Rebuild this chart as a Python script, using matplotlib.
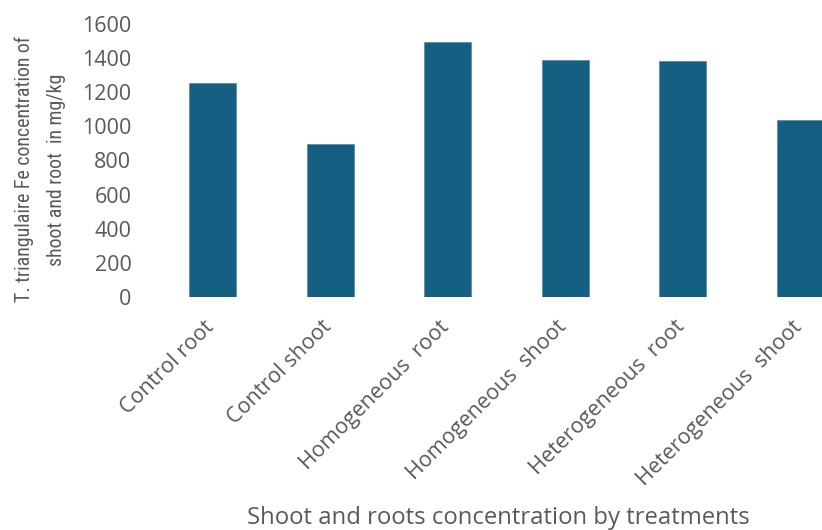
import matplotlib
matplotlib.use("Agg")
import matplotlib.pyplot as plt
import matplotlib.transforms as mtransforms
from matplotlib import font_manager as fm

categories = ["Control root", "Control shoot", "Homogeneous  root",
              "Homogeneous  shoot", "Heterogeneous  root", "Heterogeneous  shoot"]
values = [1255, 898, 1495, 1390, 1385, 1038]
yticks = [0, 200, 400, 600, 800, 1000, 1200, 1400, 1600]
ytitle_lines = ["T. triangulaire Fe concentration of", "shoot and root  in mg/kg"]
xtitle = "Shoot and roots concentration by treatments"

plt.rcParams['font.family'] = ['Open Sans', 'DejaVu Sans']
gray = '#595959'

# pick a narrow family for the condensed-looking y-axis title
names = {f.name for f in fm.fontManager.ttflist}
narrow = None
for cand in ['Liberation Sans Narrow', 'DejaVu Sans Condensed', 'Roboto Condensed']:
    if cand in names:
        narrow = cand
        break
ylab_family = [narrow, 'DejaVu Sans'] if narrow else ['Liberation Sans', 'DejaVu Sans']

W, H = 822, 530
fig = plt.figure(figsize=(W/100, H/100), dpi=100)
left = 153.7 / W
bottom = 1 - 297 / H
top = 1 - 24 / H
ax = fig.add_axes([left, bottom, 1 - left, top - bottom])

x = list(range(len(categories)))
ax.bar(x, values, width=0.4, color='#156082', edgecolor='#5a8fab', linewidth=0.6)

ax.set_xlim(-0.5, 5 + (W - 800.5) / 117.6)
ax.set_ylim(0, 1600)
ax.set_yticks(yticks)
ax.set_yticklabels([str(v) for v in yticks])
ax.set_xticks(x)
ax.set_xticklabels([])

# rotated category labels, anchored at their top-right just under each bar
offset = mtransforms.ScaledTranslation(-9/100, -19.5/100, fig.dpi_scale_trans)
for i, cat in enumerate(categories):
    ax.text(i, 0, cat, transform=ax.get_xaxis_transform() + offset,
            rotation=45, ha='right', va='top', rotation_mode='anchor',
            fontsize=15.5, color=gray)

for s in ax.spines.values():
    s.set_visible(False)
ax.tick_params(axis='both', length=0, labelsize=15.5, colors=gray)
ax.tick_params(axis='y', pad=16)

# y-axis title: two rotated lines, fitted to the reference length
yl1 = fig.text(24 / W, 1 - 169 / H, ytitle_lines[0], rotation=90,
               ha='center', va='center', fontsize=14, color=gray, family=ylab_family)
yl2 = fig.text(57 / W, 1 - 170 / H, ytitle_lines[1], rotation=90,
               ha='center', va='center', fontsize=14, color=gray, family=ylab_family)
fig.canvas.draw()
r = fig.canvas.get_renderer()
fs = 14 * 268 / yl1.get_window_extent(r).height
yl1.set_fontsize(fs)
yl2.set_fontsize(fs)

fig.text(498 / W, 1 - 518 / H, xtitle,
         ha='center', va='center', fontsize=17.2, color=gray)

fig.savefig("out.png", dpi=100)
